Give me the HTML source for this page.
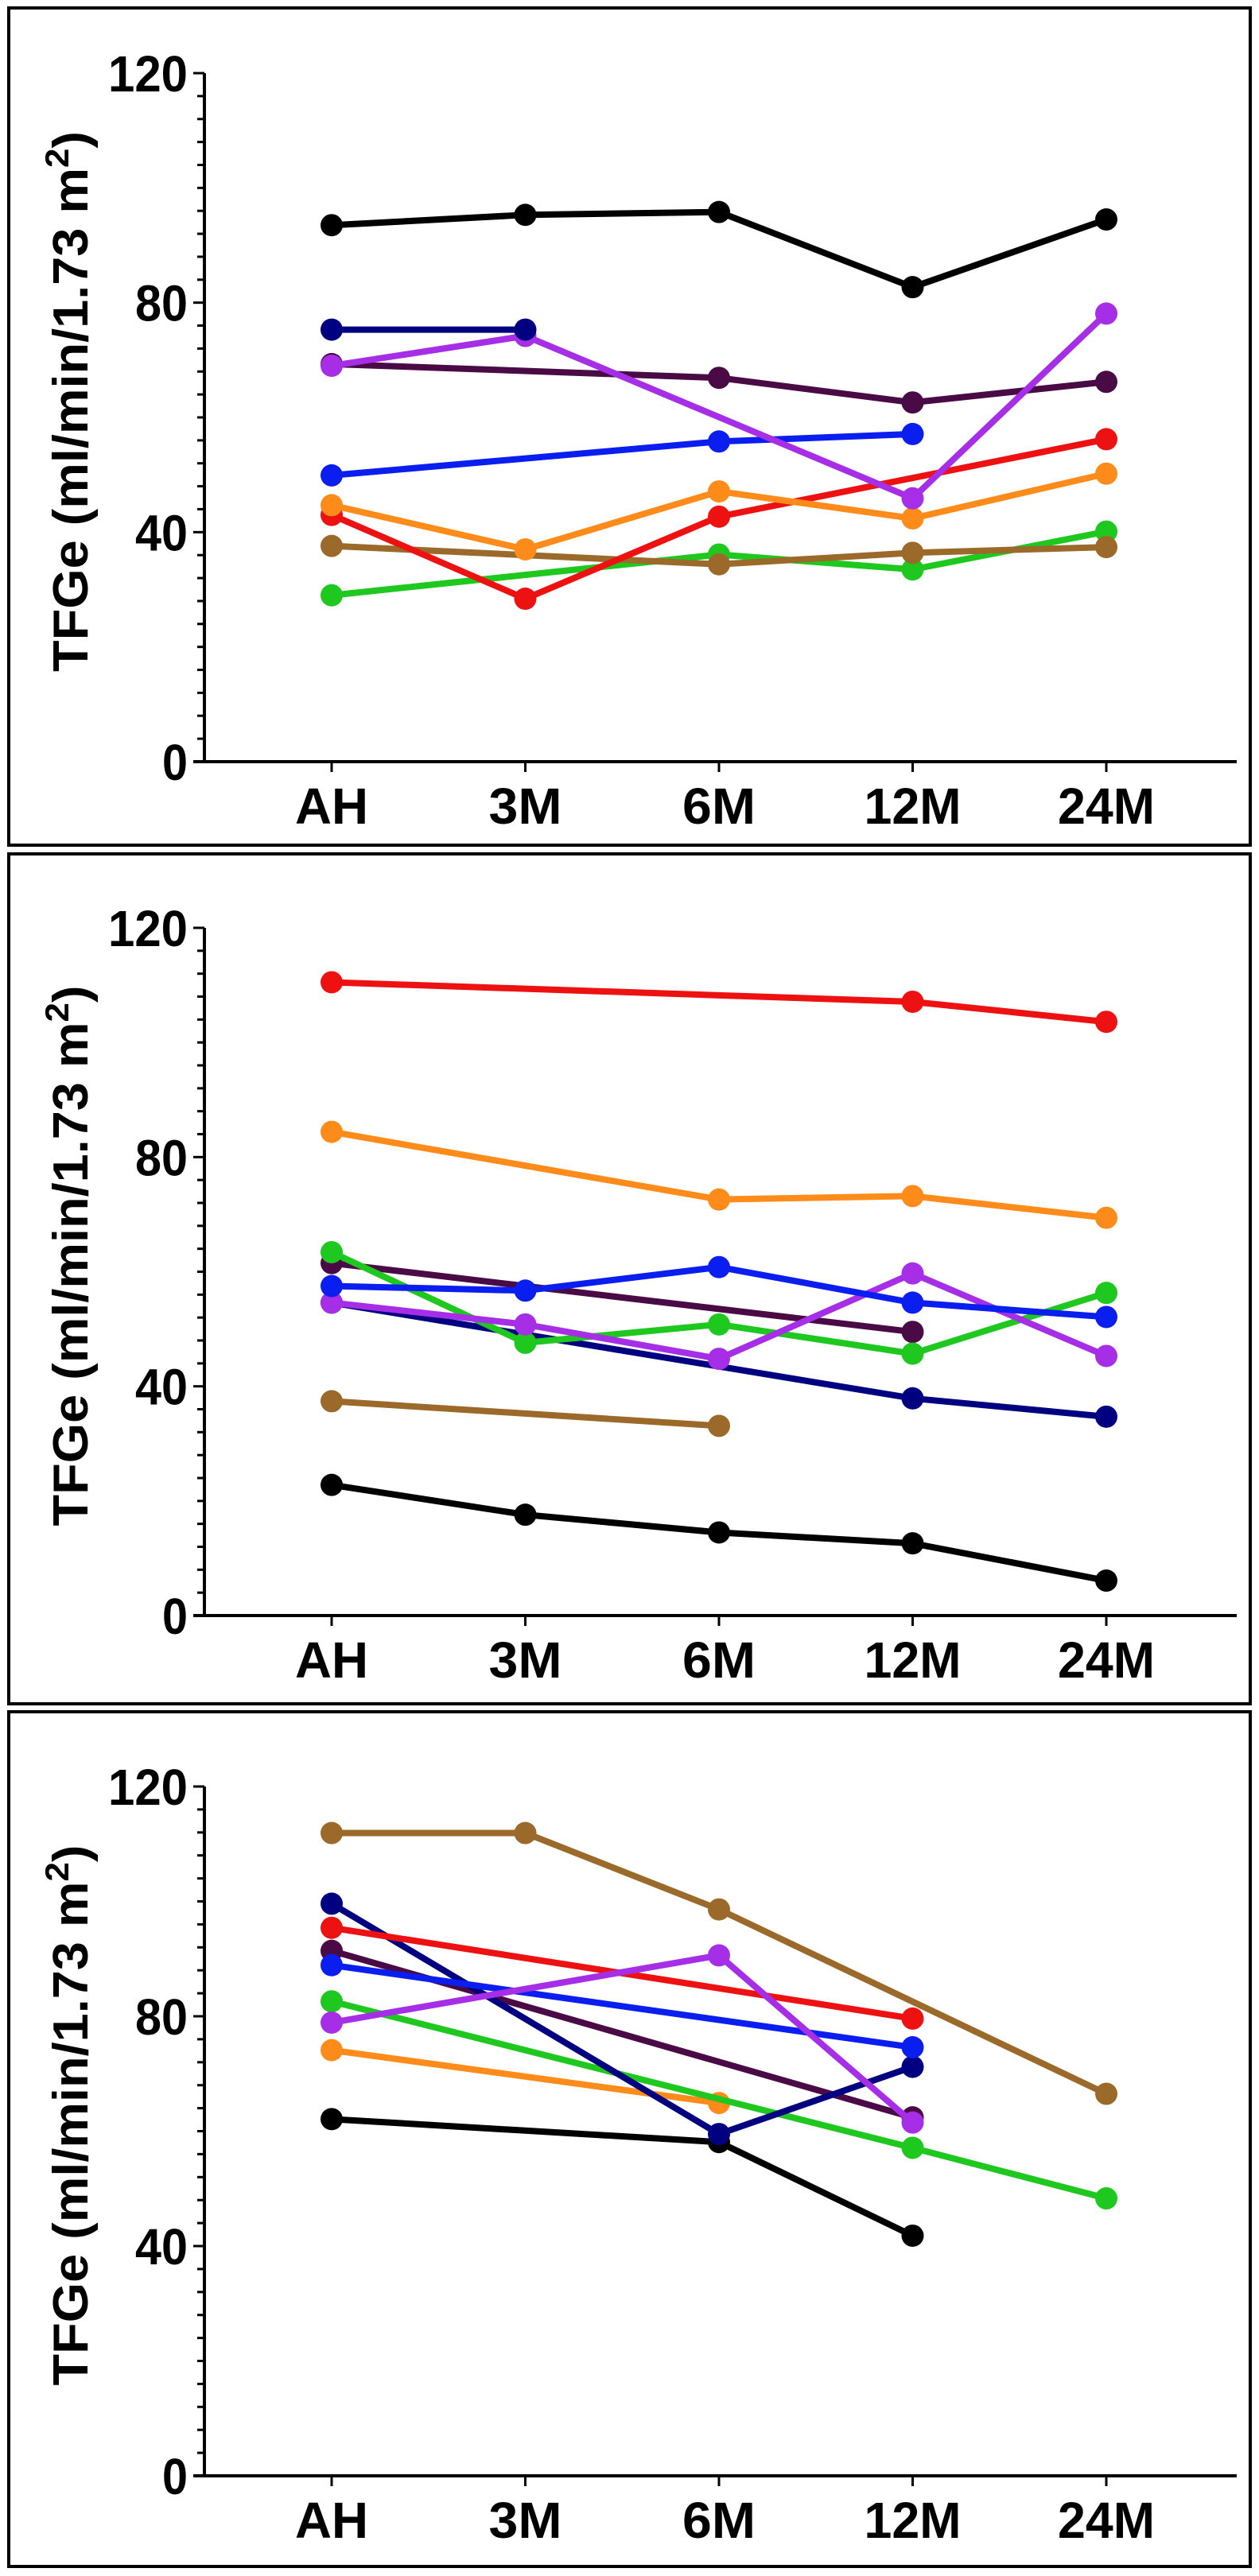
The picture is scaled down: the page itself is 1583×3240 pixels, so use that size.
<!DOCTYPE html>
<html><head><meta charset="utf-8"><style>
html,body{margin:0;padding:0;background:#fff;}
svg{display:block;}
text{font-family:"Liberation Sans",Arial,sans-serif;font-weight:bold;fill:#000;}
</style></head>
<body>
<svg id="fig" width="1583" height="3240" viewBox="0 0 1583 3240" xmlns="http://www.w3.org/2000/svg"></svg>
<script>
const categories = ["AH","3M","6M","12M","24M"];
const yTicks = [0,40,80,120];
const seriesColors = ["#000000","#000080","#a52ee6","#4a0a45","#0a1ef0","#ee1111","#ff8c1a","#9b6a2a","#1ec81e"];
const seriesNames = ["black","navy","violet","maroon","blue","red","orange","brown","green"];
// Panel 1 values (null = missing)
const p1Black  = [93.5,95.3,95.8,82.7,94.5];
const p1Navy   = [75.3,75.3,null,null,null];
const p1Violet = [69,74.2,null,45.9,78.1];
const p1Maroon = [69.3,null,66.9,62.6,66.2];
const p1Blue   = [49.9,null,55.8,57.1,null];
const p1Red    = [43,28.4,42.7,null,56.2];
const p1Orange = [44.7,37,47.1,42.4,50.2];
const p1Brown  = [37.6,null,34.4,36.4,37.4];
const p1Green  = [29,null,36.1,33.5,40.1];
// Panel 2 values
const p2Black  = [22.8,17.6,14.5,12.6,6.1];
const p2Navy   = [54.6,null,null,37.9,34.7];
const p2Violet = [54.6,50.8,44.8,59.7,45.3];
const p2Maroon = [61.5,null,null,49.5,null];
const p2Blue   = [57.5,56.7,60.8,54.6,52.1];
const p2Red    = [110.5,null,null,107.1,103.6];
const p2Orange = [84.4,null,72.6,73.2,69.4];
const p2Brown  = [37.4,null,33.1,null,null];
const p2Green  = [63.4,47.6,50.8,45.7,56.3];
// Panel 3 values
const p3Black  = [62.1,null,58.1,41.8,null];
const p3Navy   = [99.6,null,59.5,71.2,null];
const p3Violet = [78.9,null,90.6,61.5,null];
const p3Maroon = [91.4,null,null,62.4,null];
const p3Blue   = [88.9,null,null,74.6,null];
const p3Red    = [95.4,null,null,79.6,null];
const p3Orange = [74.1,null,64.9,null,null];
const p3Brown  = [111.9,111.9,98.6,null,66.5];
const p3Green  = [82.6,null,null,57.1,48.3];

const panels = [
  {frameTop:10, frameBot:1063, yTop:92, yZero:958, series:[p1Black,p1Navy,p1Violet,p1Maroon,p1Blue,p1Red,p1Orange,p1Brown,p1Green],
   order:[8,7,5,6,4,3,2,1,0]},
  {frameTop:1074, frameBot:2143, yTop:1167, yZero:2032, series:[p2Black,p2Navy,p2Violet,p2Maroon,p2Blue,p2Red,p2Orange,p2Brown,p2Green],
   order:[0,7,1,3,8,2,4,6,5]},
  {frameTop:2153, frameBot:3228, yTop:2247, yZero:3114, series:[p3Black,p3Navy,p3Violet,p3Maroon,p3Blue,p3Red,p3Orange,p3Brown,p3Green],
   order:[0,6,8,3,1,4,5,2,7]}
];
const NS = "http://www.w3.org/2000/svg";
const svg = document.getElementById("fig");
const axisX = 257, axisEnd = 1555, x0 = 417, xStep = 243.5;
function xScale(i){ return x0 + i*xStep; }
function mk(tag, attrs, parent){ const e=document.createElementNS(NS,tag); for(const k in attrs) e.setAttribute(k,attrs[k]); (parent||svg).appendChild(e); return e; }

panels.forEach((p, pi) => {
  const yScale = v => p.yZero - v/120*(p.yZero-p.yTop);
  const g = mk("g",{});
  
  
  const fr = mk("rect",{x:11,y:p.frameTop,width:1561,height:p.frameBot-p.frameTop,fill:"none",stroke:"#000","stroke-width":4},g);
  
  
  // y axis
  const ya = mk("line",{x1:axisX,y1:p.yTop,x2:axisX,y2:p.yZero,stroke:"#000","stroke-width":4},g);
  
  
  for(let v=0; v<=120; v+=4){
    const major = v%40===0;
    const t = mk("line",{x1:axisX-(major?14:9),y1:yScale(v),x2:axisX,y2:yScale(v),stroke:"#000","stroke-width":3},g);
    
    
  }
  yTicks.forEach(v => {
    const t = mk("text",{x:236,y:yScale(v)+23,"text-anchor":"end","font-size":64,textLength:(v===0?32:(v<100?66:100)),lengthAdjust:"spacingAndGlyphs"},g);
    t.textContent = v;
    
    
  });
  // x axis
  const xa = mk("line",{x1:axisX-14,y1:p.yZero,x2:axisEnd,y2:p.yZero,stroke:"#000","stroke-width":4},g);
  
  
  categories.forEach((c,i) => {
    const t = mk("line",{x1:xScale(i),y1:p.yZero,x2:xScale(i),y2:p.yZero+13,stroke:"#000","stroke-width":3},g);
    
    
    const l = mk("text",{x:xScale(i),y:p.yZero+78,"text-anchor":"middle","font-size":64,textLength:(c.length===2?92:122),lengthAdjust:"spacingAndGlyphs"},g);
    l.textContent = c;
    
    
  });
  // y title
  const cy = (p.yTop+p.yZero)/2 - 20;
  const tt = mk("text",{x:0,y:0,"text-anchor":"middle","font-size":62,transform:"translate(110,"+cy+") rotate(-90)",textLength:680,lengthAdjust:"spacingAndGlyphs"},g);
  tt.innerHTML = 'TFGe (ml/min/1.73 m<tspan dy="-24" font-size="42">2</tspan><tspan dy="24">)</tspan>';
  
  
  // series
  p.order.forEach(si => {
    const vals = p.series[si];
    const sg = mk("g",{},g);
    
    
    const pts = [];
    vals.forEach((v,i)=>{ if(v!==null) pts.push([xScale(i), yScale(v)]); });
    const line = mk("polyline",{points:pts.map(q=>q.join(",")).join(" "),fill:"none",stroke:seriesColors[si],"stroke-width":8,"stroke-linejoin":"round"},sg);
    
    
    pts.forEach(q=>{
      const c = mk("circle",{cx:q[0],cy:q[1],r:14,fill:seriesColors[si]},sg);
      
      
    });
  });
});
</script>
</body></html>
